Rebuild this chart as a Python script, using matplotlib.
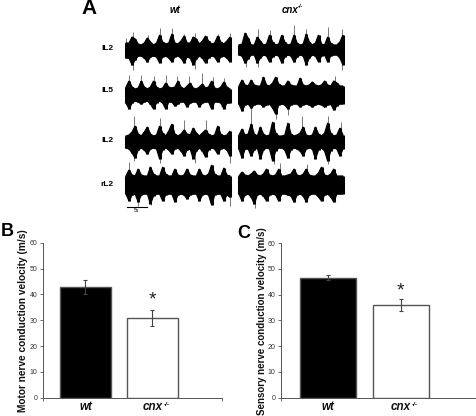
import matplotlib
matplotlib.use("Agg")
import matplotlib.pyplot as plt
import numpy as np

plt.rcParams["font.family"] = ["Liberation Sans", "DejaVu Sans"]

W, H = 477, 416

# EMG envelopes, every 3 px (amplitude in px)
l2a_wt_up = [7, 7, 13, 11, 6, 5, 7, 12, 8, 5, 7, 15, 8, 6, 7, 16, 7, 6, 9, 14, 7, 7, 13, 11, 6, 9, 14, 9, 6, 7, 14, 8, 6, 9, 13]
l2a_wt_lo = [8, 8, 15, 10, 6, 6, 8, 12, 7, 6, 7, 13, 7, 6, 8, 12, 7, 6, 8, 13, 7, 8, 15, 9, 6, 8, 13, 8, 6, 7, 12, 7, 6, 8, 12]
l2a_wt_sp = [(0, 12), (2.4, 18), (7.1, 15), (11, 22), (15, 22), (18.9, 16), (22.4, 17), (30.2, 16), (34, 17), (2.4, -20), (22.4, -19)]
l2a_cnx_up = [5, 6, 17, 12, 5, 5, 13, 9, 5, 6, 15, 8, 5, 6, 15, 8, 5, 6, 15, 7, 5, 6, 16, 8, 5, 7, 15, 6, 5, 13, 7, 5, 5, 8, 15]
l2a_cnx_lo = [5, 6, 13, 9, 5, 5, 13, 8, 5, 6, 12, 7, 5, 6, 13, 7, 5, 6, 12, 7, 5, 6, 15, 8, 5, 6, 12, 6, 5, 12, 6, 5, 5, 8, 15]
l2a_cnx_sp = [(6.3, 21), (10, 20), (18, 25), (22, 21), (29.2, 23), (33.7, 21), (2.3, -17), (6.3, -17), (33.7, -20)]

l5_wt_up = [8, 14, 8, 6, 7, 14, 8, 6, 8, 14, 8, 6, 7, 12, 8, 7, 8, 14, 8, 6, 9, 12, 7, 6, 8, 11, 7, 8, 14, 7, 6, 8, 13, 8, 6]
l5_wt_lo = [8, 14, 8, 6, 7, 9, 7, 6, 9, 14, 8, 6, 8, 14, 7, 7, 11, 9, 7, 7, 12, 8, 7, 7, 12, 8, 7, 7, 14, 7, 7, 8, 14, 8, 8]
l5_wt_sp = [(1, 20), (4.9, 20), (9.1, 19), (13.2, 20), (16.6, 19), (20.7, 19), (24.7, 22), (28.4, 18), (32, 17)]
l5_cnx_up = [9, 15, 10, 9, 15, 10, 9, 9, 18, 10, 9, 12, 18, 11, 9, 9, 14, 10, 9, 9, 17, 10, 9, 10, 13, 10, 9, 10, 14, 10, 9, 14, 12, 9, 9]
l5_cnx_lo = [9, 16, 10, 9, 13, 10, 9, 9, 12, 10, 9, 13, 19, 10, 9, 10, 14, 10, 9, 9, 12, 10, 9, 10, 12, 10, 9, 10, 12, 10, 9, 15, 11, 9, 9]
l5_cnx_sp = [(4, -29), (12, -24), (15.9, -20), (31.4, 19)]

l2b_wt_up = [6, 7, 10, 16, 8, 6, 10, 15, 8, 6, 7, 16, 9, 6, 11, 18, 8, 6, 8, 12, 8, 7, 14, 9, 6, 9, 12, 8, 6, 7, 16, 8, 6, 7, 11]
l2b_wt_lo = [6, 7, 11, 16, 8, 6, 8, 12, 7, 6, 7, 17, 8, 6, 8, 12, 7, 6, 9, 14, 8, 7, 17, 9, 6, 9, 15, 8, 6, 7, 12, 7, 6, 8, 14]
l2b_wt_sp = [(2.7, 26), (11, 24), (19, 22), (26, 22), (2.7, -19), (11, -21), (22.4, -21), (34, -21)]
l2b_cnx_up = [7, 13, 7, 8, 18, 8, 6, 15, 8, 6, 7, 20, 9, 6, 6, 7, 19, 8, 6, 7, 9, 15, 7, 6, 7, 15, 8, 6, 9, 19, 9, 6, 7, 14, 7]
l2b_cnx_lo = [7, 16, 7, 7, 14, 8, 6, 17, 8, 6, 7, 19, 9, 6, 6, 8, 16, 8, 6, 7, 9, 14, 7, 6, 7, 17, 8, 6, 9, 19, 9, 6, 7, 14, 7]
l2b_cnx_sp = [(20.7, 26), (29, 26), (33.2, 20), (11.4, -22), (29, -22)]

rl2_wt_up = [9, 15, 10, 9, 16, 10, 9, 9, 18, 11, 9, 9, 18, 11, 9, 9, 16, 10, 9, 10, 16, 10, 9, 9, 16, 10, 9, 11, 20, 11, 9, 9, 17, 10, 9]
rl2_wt_lo = [9, 16, 10, 9, 17, 10, 9, 9, 19, 11, 9, 9, 16, 10, 9, 9, 17, 10, 9, 10, 14, 10, 9, 9, 16, 10, 9, 10, 20, 10, 9, 9, 16, 10, 12]
rl2_wt_sp = [(1, 23), (34, -21), (4, -21), (8.2, -20)]
rl2_cnx_up = [9, 13, 10, 9, 11, 14, 10, 9, 11, 16, 10, 9, 10, 16, 9, 9, 10, 11, 16, 10, 9, 11, 16, 10, 9, 9, 12, 18, 10, 9, 11, 16, 9, 9, 9]
rl2_cnx_lo = [9, 16, 10, 9, 12, 19, 10, 9, 11, 16, 10, 9, 10, 16, 9, 9, 10, 11, 17, 10, 9, 11, 17, 10, 9, 9, 12, 16, 10, 9, 12, 17, 9, 9, 9]
rl2_cnx_sp = [(13.4, 22), (22.3, 21), (26.8, 18), (5.1, -23)]

row_labels = ["lL2", "lL5", "lL2", "rL2"]

# Conduction velocity bars
groups = ["wt", "cnx"]
motor_vals = [43, 31]
motor_err = [2.7, 3.1]
sensory_vals = [46.5, 36]
sensory_err = [1.0, 2.3]
y_ticks = [0, 10, 20, 30, 40, 50, 60]


def px_axes(fig, x0, y0, x1, y1):
    return fig.add_axes([x0 / W, 1 - y1 / H, (x1 - x0) / W, (y1 - y0) / H])


def draw_trace(ax, x0, yc, up, lo, spikes):
    # one shared axes in pixel units for all traces, y runs downwards
    step = 104 / (len(up) - 1)
    t = x0 + np.arange(len(up)) * step
    for s, a in spikes:
        ax.plot([x0 + s * step] * 2, [yc, yc - a], color="#777777", lw=0.7, solid_capstyle="butt", zorder=1)
    ax.fill(np.r_[t, t[::-1]], np.r_[yc - np.array(up), yc + np.array(lo)[::-1]],
            fc="black", ec="black", lw=0.9, zorder=3)
    # columns on top keep the core solid
    ax.vlines(t, yc - np.array(up), yc + np.array(lo), color="black", lw=2.2, zorder=4)


def draw_bars(fig, box, xlim, vals, errs, ylabel, label_size, star_y, ylabel_x):
    ax = px_axes(fig, *box)
    x = np.arange(len(groups))
    ax.bar(x, vals, width=0.76, color=["black", "white"], edgecolor="#555555", linewidth=1)
    for i in x:
        ax.errorbar(i, vals[i], yerr=errs[i], color="#444444", lw=0.8, capsize=1.5, capthick=0.8)
    ax.text(1, star_y, "*", ha="center", va="center", fontsize=14, color="#222222")
    ax.set_xlim(*xlim)
    ax.set_ylim(0, 60)
    ax.set_yticks(y_ticks)
    ax.set_xticks(x)
    ax.set_xticklabels(groups, fontsize=8.4, fontweight="bold", fontstyle="italic")
    ax.annotate("-/-", xy=(1, 0), xycoords=("data", "axes fraction"), xytext=(8, -6),
                textcoords="offset points", fontsize=4.5, fontweight="bold", fontstyle="italic")
    ax.set_xticks(xlim, minor=True)
    ax.tick_params(axis="x", which="major", length=0, pad=2.5, colors="#111111")
    ax.tick_params(axis="x", which="minor", length=2, width=0.6, color="#555555")
    ax.tick_params(axis="y", length=2.5, width=0.6, color="#555555", labelsize=5, labelcolor="#333333", pad=1.5)
    for s in ["top", "right"]:
        ax.spines[s].set_visible(False)
    for s in ["left", "bottom"]:
        ax.spines[s].set_color("#555555")
        ax.spines[s].set_linewidth(0.7)
    fig.text(ylabel_x / W, 1 - 321 / H, ylabel, rotation=90, ha="center", va="center",
             fontsize=label_size, fontweight="bold", color="#111111")


fig = plt.figure(figsize=(W / 100, H / 100), dpi=100)

ax_a = px_axes(fig, 120, 15, 350, 215)
traces = [
    (50, 48, l2a_wt_up, l2a_wt_lo, l2a_wt_sp, l2a_cnx_up, l2a_cnx_lo, l2a_cnx_sp),
    (95, 91, l5_wt_up, l5_wt_lo, l5_wt_sp, l5_cnx_up, l5_cnx_lo, l5_cnx_sp),
    (142, 141, l2b_wt_up, l2b_wt_lo, l2b_wt_sp, l2b_cnx_up, l2b_cnx_lo, l2b_cnx_sp),
    (185, 184, rl2_wt_up, rl2_wt_lo, rl2_wt_sp, rl2_cnx_up, rl2_cnx_lo, rl2_cnx_sp),
]
for (yc, yl, wu, wl, ws, cu, cl, cs), lab in zip(traces, row_labels):
    draw_trace(ax_a, 126, yc, wu, wl, ws)
    draw_trace(ax_a, 239, yc, cu, cl, cs)
    fig.text(107 / W, 1 - yl / H, lab, ha="center", va="center", fontsize=6, fontweight="bold")
ax_a.set_xlim(120, 350)
ax_a.set_ylim(215, 15)
ax_a.axis("off")

fig.text(175 / W, 1 - 10 / H, "wt", ha="center", va="center", fontsize=7, fontweight="bold", fontstyle="italic")
fig.text(290 / W, 1 - 10 / H, "cnx", ha="center", va="center", fontsize=7, fontweight="bold", fontstyle="italic")
fig.text(298 / W, 1 - 7 / H, "-/-", ha="left", va="center", fontsize=4, fontweight="bold", fontstyle="italic")

# scale bar
fig.add_artist(plt.Line2D([127 / W, 147 / W], [1 - 207 / H, 1 - 207 / H], color="black", lw=0.8))
fig.text(136 / W, 1 - 211 / H, "5s", ha="center", va="center", fontsize=3.5)

draw_bars(fig, (43, 242.7, 222, 397.7), (-0.634, 2.04), motor_vals, motor_err,
          "Motor nerve conduction velocity (m/s)", 7.3, 38, 23)
draw_bars(fig, (281, 243, 476, 397.7), (-0.644, 2.03), sensory_vals, sensory_err,
          "Sensory nerve conduction velocity (m/s)", 7.0, 41.5, 262)

fig.text(89 / W, 1 - 9 / H, "A", ha="center", va="center", fontsize=15, fontweight="bold")
fig.text(7 / W, 1 - 232 / H, "B", ha="center", va="center", fontsize=13, fontweight="bold")
fig.text(244 / W, 1 - 234 / H, "C", ha="center", va="center", fontsize=13, fontweight="bold")

fig.savefig("out.png", dpi=100)
